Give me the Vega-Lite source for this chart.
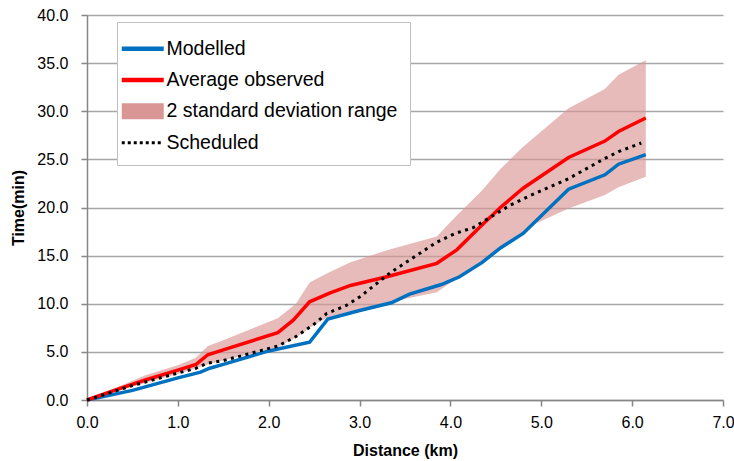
{
  "$schema": "https://vega.github.io/schema/vega-lite/v6.json",
  "width": 636,
  "height": 385,
  "autosize": "none",
  "padding": {"left": 87, "top": 15, "right": 11, "bottom": 61},
  "background": "white",
  "config": {
    "view": {"stroke": null},
    "font": "Liberation Sans",
    "axis": {
      "labelFont": "Liberation Sans",
      "labelFontSize": 16,
      "labelColor": "black",
      "titleFont": "Liberation Sans",
      "titleFontSize": 16,
      "titleFontWeight": "bold",
      "titleColor": "black",
      "domainColor": "#868686",
      "domainWidth": 1.5,
      "tickColor": "#868686",
      "tickWidth": 1.5,
      "tickSize": 6,
      "labelFlush": false
    }
  },
  "datasets": {
    "lines": [
      {"series": "Modelled", "distance": 0, "time": 0},
      {"series": "Modelled", "distance": 0.5, "time": 1.0},
      {"series": "Modelled", "distance": 1.0, "time": 2.3},
      {"series": "Modelled", "distance": 1.25, "time": 2.9},
      {"series": "Modelled", "distance": 1.35, "time": 3.3},
      {"series": "Modelled", "distance": 1.5, "time": 3.7},
      {"series": "Modelled", "distance": 2.0, "time": 5.1},
      {"series": "Modelled", "distance": 2.45, "time": 6.0},
      {"series": "Modelled", "distance": 2.65, "time": 8.4},
      {"series": "Modelled", "distance": 3.0, "time": 9.3},
      {"series": "Modelled", "distance": 3.35, "time": 10.1},
      {"series": "Modelled", "distance": 3.55, "time": 11.0},
      {"series": "Modelled", "distance": 3.9, "time": 12.0},
      {"series": "Modelled", "distance": 4.1, "time": 12.8},
      {"series": "Modelled", "distance": 4.35, "time": 14.3},
      {"series": "Modelled", "distance": 4.55, "time": 15.8},
      {"series": "Modelled", "distance": 4.8, "time": 17.3},
      {"series": "Modelled", "distance": 5.3, "time": 21.9},
      {"series": "Modelled", "distance": 5.7, "time": 23.4},
      {"series": "Modelled", "distance": 5.85, "time": 24.5},
      {"series": "Modelled", "distance": 6.15, "time": 25.5},
      {"series": "Average observed", "distance": 0, "time": 0},
      {"series": "Average observed", "distance": 0.3, "time": 1.0},
      {"series": "Average observed", "distance": 0.65, "time": 2.1},
      {"series": "Average observed", "distance": 1.0, "time": 3.1},
      {"series": "Average observed", "distance": 1.2, "time": 3.7},
      {"series": "Average observed", "distance": 1.33, "time": 4.7},
      {"series": "Average observed", "distance": 1.5, "time": 5.2},
      {"series": "Average observed", "distance": 2.1, "time": 7.0},
      {"series": "Average observed", "distance": 2.27, "time": 8.3},
      {"series": "Average observed", "distance": 2.45, "time": 10.2},
      {"series": "Average observed", "distance": 2.67, "time": 11.1},
      {"series": "Average observed", "distance": 2.9, "time": 11.9},
      {"series": "Average observed", "distance": 3.3, "time": 12.8},
      {"series": "Average observed", "distance": 3.85, "time": 14.2},
      {"series": "Average observed", "distance": 4.07, "time": 15.6},
      {"series": "Average observed", "distance": 4.35, "time": 18.2},
      {"series": "Average observed", "distance": 4.55, "time": 20.0},
      {"series": "Average observed", "distance": 4.8, "time": 22.0},
      {"series": "Average observed", "distance": 5.3, "time": 25.2},
      {"series": "Average observed", "distance": 5.7, "time": 26.9},
      {"series": "Average observed", "distance": 5.85, "time": 27.9},
      {"series": "Average observed", "distance": 6.15, "time": 29.3},
      {"series": "Scheduled", "distance": 0, "time": 0},
      {"series": "Scheduled", "distance": 0.5, "time": 1.5},
      {"series": "Scheduled", "distance": 1.0, "time": 2.8},
      {"series": "Scheduled", "distance": 1.2, "time": 3.3},
      {"series": "Scheduled", "distance": 1.32, "time": 3.8},
      {"series": "Scheduled", "distance": 1.5, "time": 4.1},
      {"series": "Scheduled", "distance": 2.1, "time": 5.6},
      {"series": "Scheduled", "distance": 2.3, "time": 6.6},
      {"series": "Scheduled", "distance": 2.49, "time": 7.8},
      {"series": "Scheduled", "distance": 2.64, "time": 9.0},
      {"series": "Scheduled", "distance": 2.85, "time": 9.8},
      {"series": "Scheduled", "distance": 3.0, "time": 10.7},
      {"series": "Scheduled", "distance": 3.35, "time": 13.3},
      {"series": "Scheduled", "distance": 3.85, "time": 16.4},
      {"series": "Scheduled", "distance": 4.05, "time": 17.3},
      {"series": "Scheduled", "distance": 4.25, "time": 17.9},
      {"series": "Scheduled", "distance": 4.65, "time": 20.2},
      {"series": "Scheduled", "distance": 4.87, "time": 21.2},
      {"series": "Scheduled", "distance": 5.3, "time": 23.0},
      {"series": "Scheduled", "distance": 5.7, "time": 25.1},
      {"series": "Scheduled", "distance": 5.85, "time": 25.8},
      {"series": "Scheduled", "distance": 6.1, "time": 26.7}
    ],
    "band": [
      {"distance": 0, "upper": 0, "lower": 0},
      {"distance": 0.5, "upper": 2.0, "lower": 1.4},
      {"distance": 0.65, "upper": 2.6, "lower": 1.8},
      {"distance": 1.0, "upper": 3.6, "lower": 2.7},
      {"distance": 1.2, "upper": 4.4, "lower": 3.3},
      {"distance": 1.33, "upper": 5.6, "lower": 3.7},
      {"distance": 1.5, "upper": 6.2, "lower": 4.1},
      {"distance": 2.1, "upper": 8.5, "lower": 5.5},
      {"distance": 2.3, "upper": 10.0, "lower": 6.5},
      {"distance": 2.45, "upper": 12.2, "lower": 7.5},
      {"distance": 2.65, "upper": 13.2, "lower": 8.6},
      {"distance": 2.9, "upper": 14.3, "lower": 9.2},
      {"distance": 3.25, "upper": 15.4, "lower": 10.0},
      {"distance": 3.35, "upper": 15.7, "lower": 10.2},
      {"distance": 3.85, "upper": 17.0, "lower": 11.2},
      {"distance": 4.05, "upper": 19.0, "lower": 12.5},
      {"distance": 4.35, "upper": 21.8, "lower": 14.2},
      {"distance": 4.55, "upper": 24.0, "lower": 15.6},
      {"distance": 4.8, "upper": 26.3, "lower": 17.4},
      {"distance": 4.95, "upper": 27.5, "lower": 18.4},
      {"distance": 5.3, "upper": 30.3, "lower": 19.9},
      {"distance": 5.7, "upper": 32.3, "lower": 21.3},
      {"distance": 5.85, "upper": 33.8, "lower": 22.1},
      {"distance": 6.15, "upper": 35.3, "lower": 23.2}
    ]
  },
  "encoding": {
    "x": {
      "field": "distance", "type": "quantitative",
      "scale": {"domain": [0, 7], "nice": false},
      "axis": {
        "title": "Distance (km)", "values": [0,1,2,3,4,5,6,7], "format": ".1f", "grid": false,
        "labelPadding": 8, "titlePadding": 12,
        "encode": {"labels": {"update": {"dx": {"signal": "datum.value === 7 ? -6 : 0"}}}}
      }
    }
  },
  "layer": [
    {
      "data": {"name": "band"},
      "mark": {"type": "area", "fillOpacity": 0.65},
      "encoding": {
        "y": {
          "field": "lower", "type": "quantitative",
          "scale": {"domain": [0, 40], "nice": false},
          "axis": {"title": "Time(min)", "values": [0,5,10,15,20,25,30,35,40], "format": ".1f", "grid": true, "gridColor": "#A6A6A6", "gridWidth": 1.5, "labelPadding": 13, "titlePadding": 10}
        },
        "y2": {"field": "upper"},
        "color": {
          "datum": "2 standard deviation range",
          "type": "nominal",
          "scale": {
            "domain": ["Modelled", "Average observed", "2 standard deviation range", "Scheduled"],
            "range": ["#0070C0", "#FF0000", "#D99694", "#000000"]
          },
          "legend": {
            "orient": "none", "legendX": 30, "legendY": 7,
            "title": " ", "titleFontSize": 5, "titlePadding": 0,
            "padding": 12,
            "fillColor": "white", "strokeColor": "#BFBFBF",
            "labelFont": "Liberation Sans", "labelFontSize": 19.5, "labelColor": "black",
            "labelLimit": 400,
            "symbolSize": 1764, "symbolType": "stroke", "symbolStrokeWidth": 4,
            "symbolOffset": 4,
            "rowPadding": 10.3, "labelOffset": 14,
            "encode": {
              "symbols": {
                "update": {
                  "shape": {"signal": "datum.label === '2 standard deviation range' ? 'M-1,-0.38H1V0.38H-1Z' : 'stroke'"},
                  "fill": {"signal": "datum.label === '2 standard deviation range' ? '#D99694' : 'transparent'"},
                  "stroke": {"signal": "scale('color', datum.value)"},
                  "strokeDash": {"signal": "datum.label === 'Scheduled' ? [3, 3] : [1, 0]"},
                  "strokeWidth": {"signal": "datum.label === '2 standard deviation range' ? 0 : (datum.label === 'Scheduled' ? 3 : 4.5)"},
                  "opacity": {"value": 1},
                  "fillOpacity": {"value": 1}
                }
              }
            }
          }
        }
      }
    },
    {
      "data": {"name": "lines"},
      "transform": [{"filter": "datum.series === 'Modelled'"}],
      "mark": {"type": "line", "strokeWidth": 3.5},
      "encoding": {
        "y": {"field": "time", "type": "quantitative"},
        "color": {"field": "series", "type": "nominal"}
      }
    },
    {
      "data": {"name": "lines"},
      "transform": [{"filter": "datum.series === 'Average observed'"}],
      "mark": {"type": "line", "strokeWidth": 3.5},
      "encoding": {
        "y": {"field": "time", "type": "quantitative"},
        "color": {"field": "series", "type": "nominal"}
      }
    },
    {
      "data": {"name": "lines"},
      "transform": [{"filter": "datum.series === 'Scheduled'"}],
      "mark": {"type": "line", "strokeWidth": 3, "strokeDash": [3, 4.5]},
      "encoding": {
        "y": {"field": "time", "type": "quantitative"},
        "color": {"field": "series", "type": "nominal"}
      }
    }
  ]
}
